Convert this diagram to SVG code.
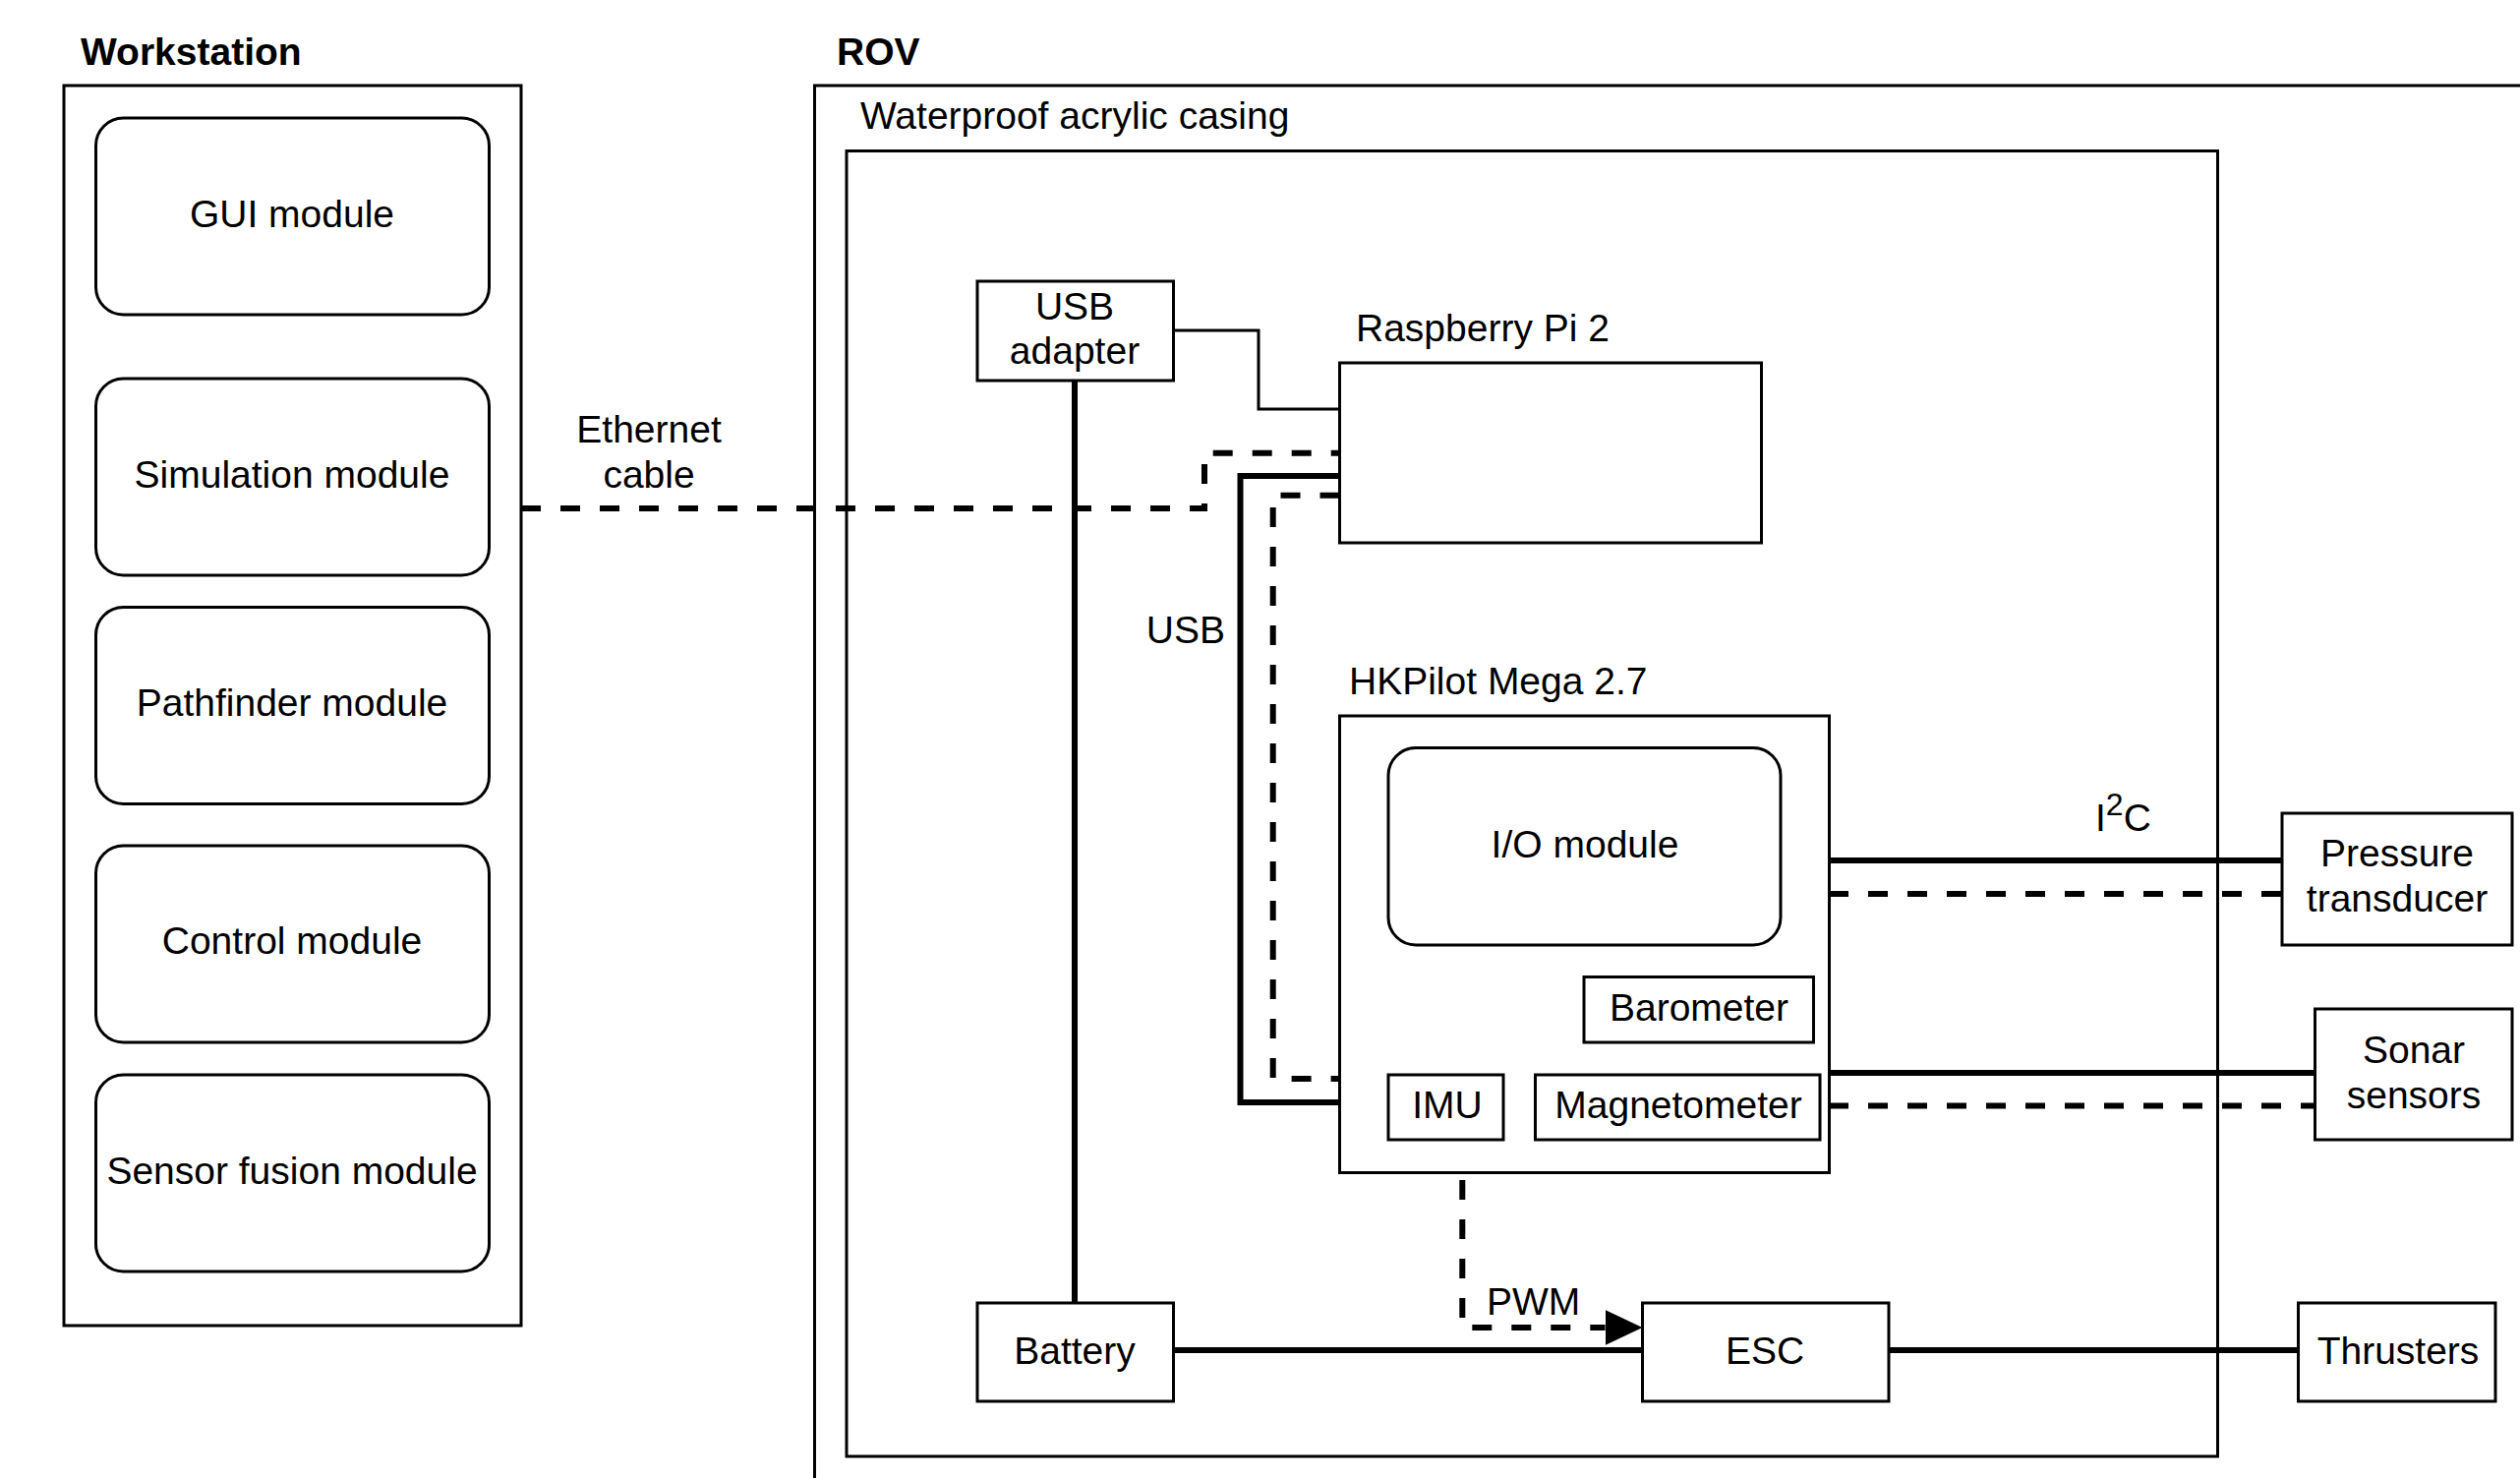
<svg xmlns="http://www.w3.org/2000/svg" width="2563" height="1503" viewBox="0 0 2563 1503">
<style>
  text { font-family: "Liberation Sans", Arial, Helvetica, sans-serif; font-size: 39px; fill: #000; }
  .c { text-anchor: middle; }
  .b { font-weight: bold; }
  .box { fill: #fff; stroke: #000; stroke-width: 3; }
  .frame { fill: none; stroke: #000; stroke-width: 3; }
  .thick { fill: none; stroke: #000; stroke-width: 6; }
  .thin { fill: none; stroke: #000; stroke-width: 3; }
  .dash { fill: none; stroke: #000; stroke-width: 6; stroke-dasharray: 20 20; }
</style>
<defs>
  <marker id="arrow" markerUnits="userSpaceOnUse" viewBox="0 0 38 36" refX="0" refY="18" markerWidth="38" markerHeight="36" orient="auto">
    <path d="M0,0 L38,18 L0,36 Z" fill="#000"/>
  </marker>
</defs>
<rect width="2563" height="1503" fill="#fff"/>

<g id="workstation">
  <text class="b" x="82" y="66">Workstation</text>
  <rect class="frame" x="65" y="87" width="465" height="1261"/>
</g>
<g id="rov">
  <text class="b" x="851" y="66">ROV</text>
  <rect class="frame" x="828.5" y="87" width="2000" height="2000"/>
</g>
<g id="casing">
  <text x="875" y="131">Waterproof acrylic casing</text>
  <rect class="frame" x="861" y="153.5" width="1394.5" height="1327.5"/>
</g>

<g id="connectors">
  <path class="dash" d="M530,517 H1225 V460.7 H1362.5"/>
  <path class="thin" d="M1193.5,336 H1280 V416 H1362.5"/>
  <path class="thick" d="M1362.5,484 H1261.5 V1121 H1362.5"/>
  <path class="dash" d="M1362.5,503.7 H1294.7 V1097 H1362.5"/>
  <path class="thick" d="M1093,387 V1325"/>
  <path class="thick" d="M1193.5,1373 H1670.5"/>
  <path class="thick" d="M1921,1373 H2337.5"/>
  <path class="thick" d="M1860,875 H2321"/>
  <path class="dash" d="M1860,909 H2321"/>
  <path class="thick" d="M1860,1091 H2354.5"/>
  <path class="dash" d="M1860,1124.5 H2354.5"/>
  <path class="dash" d="M1487.3,1200 V1350 H1632.5" marker-end="url(#arrow)"/>
  <text x="660" y="450" class="c">Ethernet</text>
  <text x="660" y="496" class="c">cable</text>
  <text x="1246" y="654" text-anchor="end">USB</text>
  <text x="1512" y="1337">PWM</text>
  <text x="2131" y="845">I<tspan font-size="32" dy="-16">2</tspan><tspan dy="16">C</tspan></text>
</g>

<g id="gui"><rect class="box" x="97.5" y="120" width="400" height="200" rx="28"/><text class="c" x="297" y="231">GUI module</text></g>
<g id="simulation"><rect class="box" x="97.5" y="385" width="400" height="200" rx="28"/><text class="c" x="297" y="496">Simulation module</text></g>
<g id="pathfinder"><rect class="box" x="97.5" y="617.5" width="400" height="200" rx="28"/><text class="c" x="297" y="728">Pathfinder module</text></g>
<g id="control"><rect class="box" x="97.5" y="860" width="400" height="200" rx="28"/><text class="c" x="297" y="970">Control module</text></g>
<g id="sensorfusion"><rect class="box" x="97.5" y="1093" width="400" height="200" rx="28"/><text class="c" x="297" y="1204">Sensor fusion module</text></g>

<g id="usbadapter"><rect class="box" x="994" y="286" width="199.5" height="101"/><text class="c" x="1093" y="325">USB</text><text class="c" x="1093" y="370">adapter</text></g>
<g id="raspberrypi"><text x="1379" y="347">Raspberry Pi 2</text><rect class="box" x="1362.5" y="369" width="429" height="183"/></g>
<g id="hkpilot"><text x="1372" y="706">HKPilot Mega 2.7</text><rect class="box" x="1362.5" y="728" width="498" height="464.5"/></g>
<g id="iomodule"><rect class="box" x="1412" y="760.5" width="399" height="200.5" rx="28"/><text class="c" x="1612" y="872">I/O module</text></g>
<g id="barometer"><rect class="box" x="1611" y="993.5" width="233.5" height="66.5"/><text class="c" x="1728" y="1038">Barometer</text></g>
<g id="imu"><rect class="box" x="1412" y="1093" width="117" height="66"/><text class="c" x="1472" y="1137">IMU</text></g>
<g id="magnetometer"><rect class="box" x="1561.5" y="1093" width="289.5" height="66"/><text class="c" x="1707" y="1137">Magnetometer</text></g>
<g id="battery"><rect class="box" x="994" y="1325" width="199.5" height="100"/><text class="c" x="1093" y="1387">Battery</text></g>
<g id="esc"><rect class="box" x="1670.5" y="1325" width="250.5" height="100"/><text class="c" x="1795" y="1387">ESC</text></g>
<g id="thrusters"><rect class="box" x="2337.5" y="1325" width="200.5" height="100"/><text class="c" x="2439" y="1387">Thrusters</text></g>
<g id="pressure"><rect class="box" x="2321" y="827" width="234" height="134"/><text class="c" x="2438" y="881">Pressure</text><text class="c" x="2438" y="927">transducer</text></g>
<g id="sonar"><rect class="box" x="2354.5" y="1026" width="200.5" height="133"/><text class="c" x="2455" y="1081">Sonar</text><text class="c" x="2455" y="1127">sensors</text></g>
</svg>
